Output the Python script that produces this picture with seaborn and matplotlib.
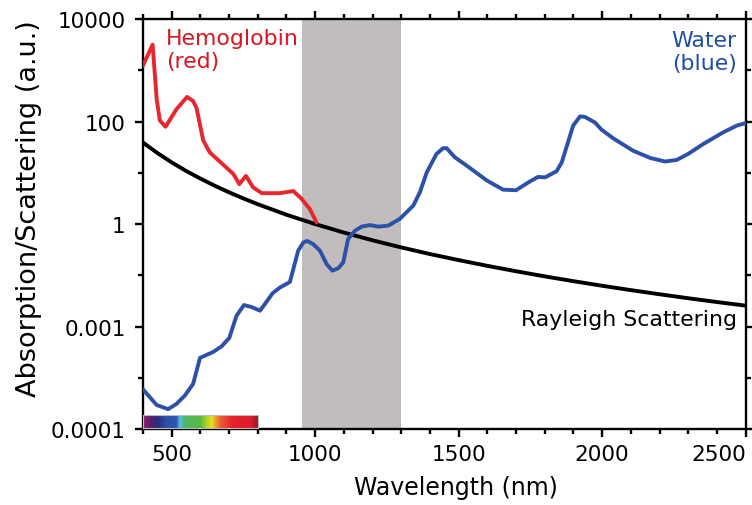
import numpy as np
import pandas as pd
import matplotlib
matplotlib.use("Agg")
import matplotlib.pyplot as plt
from matplotlib.colors import LinearSegmentedColormap
from matplotlib.ticker import FixedLocator, FixedFormatter, MultipleLocator, NullFormatter
import seaborn as sns

# ---- data ----
hb_wavelength = [400, 434, 448, 459, 479, 517, 554, 575, 587, 610, 633, 715, 736, 759,
                 784, 814, 877, 924, 953, 982, 1005]
hb_value = [1230, 3160, 275, 105, 79, 174, 302, 251, 182, 43, 25, 9.5, 6.0, 8.7,
            5.2, 4.0, 4.0, 4.4, 3.1, 1.95, 1.07]

water_wavelength = [400, 448, 488, 517, 546, 575, 599, 645, 674, 701, 726, 752, 779, 808,
                    825, 852, 877, 912, 924, 941, 959, 972, 993, 1017, 1040, 1060, 1081,
                    1098, 1115, 1139, 1162, 1191, 1220, 1255, 1295, 1342, 1365, 1389, 1423,
                    1446, 1458, 1487, 1528, 1598, 1655, 1700, 1748, 1777, 1801, 1841, 1859,
                    1899, 1923, 1940, 1975, 1998, 2039, 2108, 2167, 2219, 2260, 2300, 2352,
                    2422, 2469, 2500]
water_value = [6.0e-4, 2.95e-4, 2.45e-4, 3.1e-4, 4.5e-4, 7.6e-4, 2.45e-3, 3.2e-3, 4.1e-3,
               6.0e-3, 0.0162, 0.0263, 0.024, 0.0204, 0.0275, 0.0447, 0.0575, 0.074, 0.132,
               0.302, 0.437, 0.468, 0.407, 0.302, 0.166, 0.123, 0.138, 0.178, 0.513, 0.741,
               0.891, 0.955, 0.891, 0.933, 1.26, 2.29, 4.17, 10.2, 23.4, 30.2, 30.2, 20.0,
               13.8, 7.08, 4.68, 4.57, 6.76, 8.32, 8.13, 10.7, 15.8, 83.2, 126, 123, 95.5,
               69.2, 46.8, 26.9, 19.5, 16.6, 17.8, 23.4, 36.3, 61.7, 83.2, 93.3]

rayleigh_wavelength = [400, 450, 500, 550, 600, 650, 700, 750, 800, 900, 1000, 1100, 1200,
                       1300, 1400, 1500, 1600, 1700, 1800, 1900, 2000, 2100, 2200, 2300,
                       2400, 2500]
rayleigh_value = [39.1, 24.4, 16.0, 10.9, 7.72, 5.60, 4.16, 3.16, 2.44, 1.52, 1.00, 0.683,
                  0.482, 0.350, 0.260, 0.198, 0.153, 0.120, 0.0953, 0.0768, 0.0625, 0.0514,
                  0.0427, 0.0357, 0.0301, 0.0256]

window_range = [955, 1300]
spectrum_range = [400, 800]

y_tick_values = [1e-4, 1e-2, 1, 1e2, 1e4]
y_tick_labels = ["0.0001", "0.001", "1", "100", "10000"]
y_minor_values = [1e-3, 1e-1, 10, 1e3]
x_tick_values = [500, 1000, 1500, 2000, 2500]

# ---- style ----
sns.set_style("ticks")
plt.rcParams["font.family"] = ["DejaVu Sans"]
plt.rcParams["text.color"] = "black"
plt.rcParams["axes.labelcolor"] = "black"
plt.rcParams["xtick.color"] = "black"
plt.rcParams["ytick.color"] = "black"

RED = "#e8262e"
BLUE = "#2d50a8"
fig = plt.figure(figsize=(7.52, 5.06), dpi=100)
ax = fig.add_axes([0.190, 0.150, 0.8016, 0.8105])

ax.axvspan(window_range[0], window_range[1], color="#c1bdbd", lw=0, zorder=0)

df_r = pd.DataFrame({"wl": rayleigh_wavelength, "v": rayleigh_value})
df_w = pd.DataFrame({"wl": water_wavelength, "v": water_value})
df_h = pd.DataFrame({"wl": hb_wavelength, "v": hb_value})

sns.lineplot(data=df_r, x="wl", y="v", ax=ax, color="black", lw=2.8, zorder=3)
sns.lineplot(data=df_w, x="wl", y="v", ax=ax, color=BLUE, lw=2.8, zorder=4)
sns.lineplot(data=df_h, x="wl", y="v", ax=ax, color=RED, lw=2.8, zorder=4)

ax.set_yscale("log")
ax.set_xlim(400, 2500)
ax.set_ylim(1e-4, 1e4)

ax.yaxis.set_major_locator(FixedLocator(y_tick_values))
ax.yaxis.set_major_formatter(FixedFormatter(y_tick_labels))
ax.yaxis.set_minor_locator(FixedLocator(y_minor_values))
ax.yaxis.set_minor_formatter(NullFormatter())
ax.xaxis.set_major_locator(FixedLocator(x_tick_values))
ax.xaxis.set_minor_locator(MultipleLocator(100))

ax.tick_params(which="both", direction="out", top=True, right=True,
               labeltop=False, labelright=False, width=1.7, color="black")
ax.tick_params(which="major", length=5.5, labelsize=15.5)
ax.tick_params(which="minor", length=3.5)
ax.tick_params(axis="y", which="major", pad=7)
ax.tick_params(axis="x", which="major", pad=5)
for s in ax.spines.values():
    s.set_visible(True)
    s.set_linewidth(1.7)
    s.set_color("black")

# last x label sits left of its tick, as in the reference
fig.canvas.draw()
xlabels = ax.get_xticklabels()
xlabels[-1].set_horizontalalignment("right")
xlabels[-1].set_x(2500)

ax.set_xlabel("Wavelength (nm)", fontsize=17, labelpad=9)
ax.xaxis.set_label_coords(0.52, -0.113)
ax.xaxis.label.set_va("top")
ax.set_ylabel("Absorption/Scattering (a.u.)", fontsize=19.5, labelpad=6)
ax.yaxis.label.set_y(0.539)

ax.text(0.038, 0.979, "Hemoglobin\n(red)", transform=ax.transAxes, color="#d8161f",
        fontsize=15.8, va="top", ha="left", linespacing=1.22)
ax.text(0.985, 0.974, "Water\n(blue)", transform=ax.transAxes, color="#1f4ea3",
        fontsize=15.8, va="top", ha="right", linespacing=1.22)
ax.text(0.985, 0.268, "Rayleigh Scattering", transform=ax.transAxes, color="black",
        fontsize=15.8, va="center", ha="right")

# visible spectrum strip
spec_colors = [(0.0, "#9b1a6e"), (0.06, "#5a2070"), (0.13, "#2a2d7d"), (0.2, "#2f4fa8"),
               (0.29, "#2f55b0"), (0.32, "#5bbde6"), (0.36, "#4cb86a"), (0.5, "#5ab840"),
               (0.56, "#b8d828"), (0.6, "#e8e020"), (0.63, "#f0a030"), (0.68, "#e85a30"),
               (0.78, "#e8202a"), (0.94, "#e01c28"), (1.0, "#8b1a2a")]
cmap = LinearSegmentedColormap.from_list("spec", spec_colors)
frac = (spectrum_range[1] - spectrum_range[0]) / (2500 - 400)
iax = ax.inset_axes([0.0, 0.003, frac, 0.032])
iax.imshow(np.linspace(0, 1, 256)[None, :], aspect="auto", cmap=cmap)
iax.set_xticks([])
iax.set_yticks([])
for s in iax.spines.values():
    s.set_color("#bbbbbb")
    s.set_linewidth(0.8)

fig.savefig("out.png", dpi=100)
